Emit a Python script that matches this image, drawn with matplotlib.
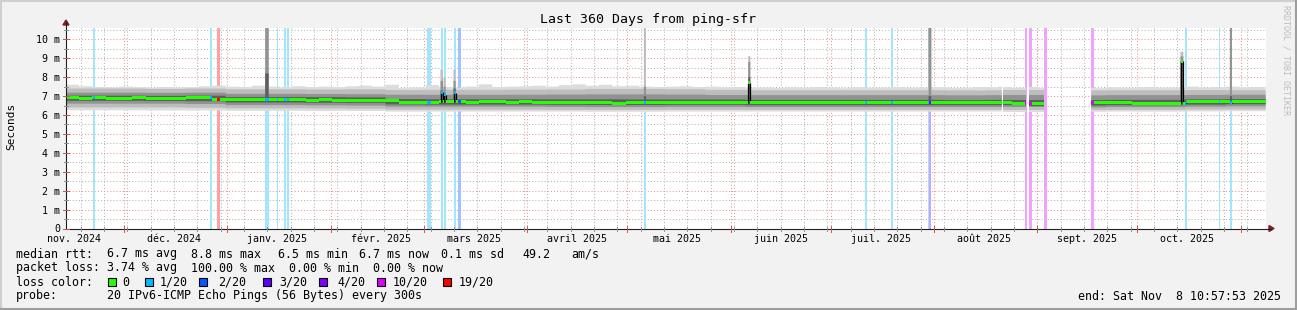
import numpy as np
import matplotlib
matplotlib.use("Agg")
import matplotlib.pyplot as plt
from matplotlib.patches import Rectangle, Polygon
from matplotlib.lines import Line2D
from matplotlib.collections import LineCollection, PolyCollection
from matplotlib.transforms import Affine2D
from datetime import datetime, timedelta

W, H = 1297, 310
MONO = "DejaVu Sans Mono"

# ---------------- data ----------------
start = datetime(2024, 11, 13, 10, 57, 53)
span_days = 360
title = "Last 360 Days from ping-sfr"
y_label = "Seconds"
y_ticks = [0, 1, 2, 3, 4, 5, 6, 7, 8, 9, 10]
y_tick_labels = ["0", "1 m", "2 m", "3 m", "4 m", "5 m", "6 m", "7 m", "8 m", "9 m", "10 m"]
y_max = 10.6
month_abbr = ["janv.", "févr.", "mars", "avril", "mai", "juin",
              "juil.", "août", "sept.", "oct.", "nov.", "déc."]

# median rtt in ms, one value per 4-day bin
median_bin = 4
median_ms = [6.90, 6.88, 6.90, 6.89, 6.88, 6.90, 6.88, 6.89, 6.88, 6.90,
             6.92, 6.83, 6.82, 6.83, 6.81, 6.82, 6.80, 6.81, 6.79, 6.80,
             6.79, 6.78, 6.79, 6.77, 6.76, 6.68, 6.67, 6.68, 6.69, 6.69,
             6.68, 6.70, 6.69, 6.68, 6.69, 6.68, 6.67, 6.66, 6.67, 6.65,
             6.64, 6.63, 6.66, 6.65, 6.66, 6.66, 6.67, 6.68, 6.67, 6.67,
             6.68, 6.66, 6.65, 6.66, 6.65, 6.64, 6.66, 6.65, 6.64, 6.65,
             6.66, 6.64, 6.64, 6.65, 6.66, 6.65, 6.64, 6.65, 6.65, 6.66,
             6.64, 6.61, 6.61, 6.62, 6.64, 6.64, 6.64, 6.64, 6.65, 6.64,
             6.63, 6.63, 6.63, 6.63, 6.70, 6.69, 6.70, 6.71, 6.72, 6.73]

# highest pings (ms), one value per 4-day bin
smoke_top = [7.60, 7.52, 7.48, 7.45, 7.50, 7.46, 7.44, 7.48, 7.45, 7.47,
             7.52, 7.55, 7.50, 7.48, 7.55, 7.50, 7.47, 7.52, 7.48, 7.50,
             7.46, 7.52, 7.55, 7.50, 7.60, 7.42, 7.45, 7.58, 7.48, 7.45,
             7.50, 7.62, 7.48, 7.50, 7.52, 7.55, 7.50, 7.58, 7.62, 7.55,
             7.60, 7.52, 7.55, 7.50, 7.48, 7.50, 7.52, 7.48, 7.50, 7.46,
             7.48, 7.45, 7.45, 7.42, 7.46, 7.44, 7.48, 7.45, 7.42, 7.46,
             7.44, 7.45, 7.48, 7.43, 7.45, 7.46, 7.44, 7.42, 7.47, 7.45,
             7.50, 7.45, 7.48, 7.44, 7.44, 7.44, 7.44, 7.42, 7.45, 7.44,
             7.46, 7.48, 7.44, 7.46, 7.50, 7.45, 7.48, 7.50, 7.46, 7.48]

# inner smoke layers (ms), one value per 12-day bin
smoke_bin = 12
smoke_up3 = [7.40, 7.40, 7.38, 7.40, 7.36, 7.36, 7.35, 7.36, 7.32, 7.33,
             7.33, 7.34, 7.35, 7.38, 7.38, 7.36, 7.33, 7.31, 7.31, 7.31,
             7.31, 7.31, 7.30, 7.31, 7.31, 7.30, 7.31, 7.31, 7.32, 7.31]
smoke_up2 = [7.18, 7.18, 7.17, 7.18, 7.12, 7.12, 7.11, 7.10, 7.07, 7.07,
             7.07, 7.07, 7.08, 7.09, 7.09, 7.08, 7.06, 7.05, 7.05, 7.05,
             7.05, 7.05, 7.04, 7.05, 7.05, 7.04, 7.05, 7.05, 7.06, 7.07]
smoke_up1 = [7.02, 7.02, 7.01, 7.02, 6.95, 6.95, 6.94, 6.93, 6.84, 6.83,
             6.83, 6.83, 6.83, 6.83, 6.82, 6.82, 6.82, 6.80, 6.80, 6.80,
             6.80, 6.80, 6.79, 6.80, 6.80, 6.79, 6.80, 6.80, 6.83, 6.84]
smoke_lo1 = [6.75, 6.75, 6.74, 6.73, 6.66, 6.66, 6.65, 6.64, 6.56, 6.55,
             6.55, 6.55, 6.54, 6.53, 6.53, 6.54, 6.54, 6.52, 6.52, 6.52,
             6.52, 6.52, 6.52, 6.52, 6.50, 6.50, 6.52, 6.52, 6.55, 6.57]
smoke_lo2 = [6.60, 6.60, 6.60, 6.58, 6.52, 6.52, 6.51, 6.50, 6.44, 6.44,
             6.44, 6.44, 6.43, 6.42, 6.42, 6.43, 6.43, 6.42, 6.42, 6.42,
             6.42, 6.42, 6.42, 6.42, 6.40, 6.40, 6.42, 6.42, 6.44, 6.46]
smoke_lo3 = [6.40, 6.40, 6.40, 6.38, 6.35, 6.35, 6.34, 6.33, 6.28, 6.28,
             6.28, 6.28, 6.27, 6.27, 6.27, 6.28, 6.28, 6.27, 6.27, 6.27,
             6.27, 6.27, 6.27, 6.27, 6.26, 6.26, 6.27, 6.27, 6.29, 6.30]
smoke_lo4 = [6.25, 6.25, 6.24, 6.24, 6.22, 6.22, 6.21, 6.21, 6.18, 6.18,
             6.18, 6.18, 6.18, 6.17, 6.17, 6.18, 6.18, 6.18, 6.18, 6.18,
             6.18, 6.18, 6.18, 6.18, 6.17, 6.17, 6.18, 6.18, 6.19, 6.20]

# periods without data (days from start)
gap_start = [280.9, 288.1, 293.6]
gap_end = [281.3, 289.1, 307.7]

# loss levels
loss_labels = ["0", "1/20", "2/20", "3/20", "4/20", "10/20", "19/20"]
loss_colors = ["#26ff00", "#00b8ff", "#0059ff", "#5e00ff", "#7e00ff", "#dd00ff", "#ff0000"]
# loss events: start day, duration (days), level index
loss_day = [8.25, 43.4, 45.4, 59.9, 63.5, 65.4, 66.5, 108.5, 112.5, 113.4,
            116.5, 117.8, 173.4, 239.9, 247.7, 258.7, 259.1, 287.7, 289.1, 293.6,
            307.7, 335.9, 345.9, 349.2]
loss_width = [0.6, 0.6, 1.0, 1.0, 0.3, 0.8, 0.4, 1.0, 0.7, 0.6,
              0.5, 0.7, 0.7, 0.5, 0.6, 0.4, 0.6, 0.6, 0.7, 0.7,
              0.7, 0.5, 0.5, 0.7]
loss_level = [1, 1, 6, 1, 1, 1, 1, 1, 1, 1,
              1, 2, 1, 1, 1, 1, 4, 5, 5, 5,
              5, 1, 1, 1]

# latency spikes: start day, duration, smoke top, smoke mid, smoke core, median (ms)
spike_day = [59.9, 112.5, 113.4, 116.4, 173.5, 204.8, 258.9, 334.5, 349.3]
spike_width = [1.0, 0.7, 0.6, 0.6, 0.6, 0.6, 0.8, 0.8, 0.6]
spike_top = [10.6, 8.40, 8.00, 8.40, 10.6, 9.10, 10.6, 9.34, 10.6]
spike_mid = [10.6, 7.80, 7.50, 7.80, 7.50, 8.80, 10.6, 9.10, 10.6]
spike_core = [8.20, 7.30, 7.10, 7.40, 7.00, 8.00, 7.00, 8.85, 7.00]
spike_median = [6.82, 7.20, 7.06, 7.17, 6.66, 7.70, 6.65, 8.85, 6.66]

rtt_label = "median rtt:"
rtt_items = ["6.7 ms avg", "8.8 ms max", "6.5 ms min", "6.7 ms now", "0.1 ms sd", "49.2", "am/s"]
loss_label = "packet loss:"
loss_items = ["3.74 % avg", "100.00 % max", "0.00 % min", "0.00 % now"]
color_label = "loss color:"
probe_label = "probe:"
probe_text = "20 IPv6-ICMP Echo Pings (56 Bytes) every 300s"
end_text = "end: Sat Nov  8 10:57:53 2025"
watermark = "RRDTOOL / TOBI OETIKER"

# ---------------- figure ----------------
BG = "#F2F2F2"
fig = plt.figure(figsize=(W / 100, H / 100), dpi=100, facecolor=BG)
PX = Affine2D().scale(1.0 / W, -1.0 / H).translate(0, 1) + fig.transFigure

X0, X1, YT, YB = 65.6, 1265.6, 28.0, 228.5
ax = fig.add_axes([X0 / W, (H - YB) / H, (X1 - X0) / W, (YB - YT) / H])
ax.set_facecolor("white")
ax.set_xlim(0, span_days)
ax.set_ylim(0, y_max)
for s in ax.spines.values():
    s.set_visible(False)


def dayof(dt):
    return (dt - start).total_seconds() / 86400.0


def light(c, a=0.37):
    c = matplotlib.colors.to_rgb(c)
    return tuple(1 - a * (1 - v) for v in c)


GRID = "#B4B4B4"
MGRID = "#EB9595"
dots = (0, (1, 2))

# month boundaries and weeks
months = []
y, m = 2024, 11
while True:
    d = datetime(y, m, 1)
    if dayof(d) > span_days + 31:
        break
    months.append(d)
    m += 1
    if m > 12:
        m, y = 1, y + 1
weeks = []
d = datetime(2024, 11, 18)
while dayof(d) < span_days:
    weeks.append(d)
    d += timedelta(days=7)

for wk in weeks:
    ax.axvline(dayof(wk), color=GRID, lw=0.75, ls=dots, zorder=1)
for mo in months:
    if 0 < dayof(mo) < span_days:
        ax.axvline(dayof(mo), color=MGRID, lw=0.75, ls=dots, zorder=1.1)
for v in np.arange(0.5, y_max, 1.0):
    ax.axhline(v, color=GRID, lw=0.75, ls=dots, zorder=1)
for v in y_ticks[1:]:
    ax.axhline(v, color=MGRID, lw=0.75, ls=dots, zorder=1.1)

# loss background bars
for d0, w, lv in zip(loss_day, loss_width, loss_level):
    ax.axvspan(d0, d0 + w, color=light(loss_colors[lv]), lw=0, zorder=2)

# fine time grid
dt = 0.05
t = np.arange(0, span_days, dt)
tm = t + dt / 2
mi = np.minimum((tm // median_bin).astype(int), len(median_ms) - 1)
si = np.minimum((tm // smoke_bin).astype(int), len(smoke_up3) - 1)
med = np.array(median_ms)[mi]
layers = {k: np.array(v)[si] for k, v in dict(
    up3=smoke_up3, up2=smoke_up2, up1=smoke_up1,
    lo1=smoke_lo1, lo2=smoke_lo2, lo3=smoke_lo3, lo4=smoke_lo4).items()}
layers["up4"] = np.array(smoke_top)[mi]
col = np.zeros(len(t), dtype=int)

for d0, w, tp, md, cr, me in zip(spike_day, spike_width, spike_top, spike_mid,
                                 spike_core, spike_median):
    sel = (tm >= d0) & (tm < d0 + w)
    layers["up4"][sel] = tp
    layers["up3"][sel] = tp
    layers["up2"][sel] = md
    layers["up1"][sel] = np.maximum(layers["up1"][sel], cr)
    med[sel] = me
for d0, w, lv in zip(loss_day, loss_width, loss_level):
    sel = (tm >= d0) & (tm < d0 + w)
    col[sel] = lv
for g0, g1 in zip(gap_start, gap_end):
    sel = (tm >= g0) & (tm < g1)
    med[sel] = np.nan
    for k in layers:
        layers[k][sel] = np.nan

xe = np.append(t, span_days)


def ext(a):
    return np.append(a, a[-1])


shades = [("lo4", "up4", "#DCDCDC"), ("lo3", "up3", "#BDBDBD"),
          ("lo2", "up2", "#929292"), ("lo1", "up1", "#5E5E5E")]
for lo, up, c in shades:
    ax.fill_between(xe, ext(layers[lo]), ext(layers[up]), step="post",
                    color=c, lw=0, zorder=3)

# median: 3-px thick runs coloured by loss, thin black risers between runs
half = 1.5 * y_max / (YB - YT)
rects, cols, risers = [], [], []
n = len(t)
i = 0
prev = None
while i < n:
    if np.isnan(med[i]):
        prev = None
        i += 1
        continue
    j = i
    while j + 1 < n and med[j + 1] == med[i] and col[j + 1] == col[i]:
        j += 1
    xa, xb = t[i], t[j] + dt
    v = med[i]
    rects.append([(xa, v - half), (xb, v - half), (xb, v + half), (xa, v + half)])
    cols.append(loss_colors[col[i]])
    if prev is not None and prev != v:
        risers.append([(xa, prev), (xa, v)])
    prev = v
    i = j + 1
ax.add_collection(LineCollection(risers, colors="#000000", linewidths=0.9, zorder=4))
ax.add_collection(PolyCollection(rects, facecolors=cols, edgecolors="none", zorder=5))

ax.set_xticks([])
ax.set_yticks([])

# axes lines + arrows
AXC = "#1F1F1F"
ARC = "#801F1F"
fig.add_artist(Line2D([66, 66], [228.5, 22], color=AXC, lw=0.8, transform=PX))
fig.add_artist(Line2D([66, 1271], [228.5, 228.5], color=AXC, lw=0.8, transform=PX))
fig.add_artist(Polygon([[63, 25], [69, 25], [66, 20]], closed=True, color=ARC, transform=PX))
fig.add_artist(Polygon([[1269, 225.5], [1269, 231.5], [1274, 228.5]], closed=True, color=ARC, transform=PX))


def dx(d):
    return X0 + (X1 - X0) * d / span_days


def ypx(v):
    return YB - (YB - YT) * v / y_max


for wk in weeks:
    x = dx(dayof(wk))
    fig.add_artist(Line2D([x, x], [226.5, 230.5], color="#909090", lw=0.7, transform=PX))
for mo in months:
    dd = dayof(mo)
    if 0 < dd < span_days:
        x = dx(dd)
        fig.add_artist(Line2D([x, x], [225.5, 231.5], color="#D05050", lw=0.7, transform=PX))
for v in y_ticks:
    yy = ypx(v)
    fig.add_artist(Line2D([63, 69], [yy, yy], color="#D05050", lw=0.7, transform=PX))
for v in np.arange(0.5, y_max, 1.0):
    yy = ypx(v)
    fig.add_artist(Line2D([64, 68], [yy, yy], color="#909090", lw=0.7, transform=PX))

# y tick labels
for v, lab in zip(y_ticks, y_tick_labels):
    fig.text(60, ypx(v), lab, transform=PX, ha="right", va="center_baseline",
             family=MONO, fontsize=7.2)

# month labels (mid-month)
for mo in months:
    lab_day = dayof(mo) + 15
    if 0 <= lab_day <= span_days:
        lab = f"{month_abbr[mo.month - 1]} {mo.year}"
        fig.text(dx(lab_day), 241.5, lab, transform=PX, ha="center", va="baseline",
                 family=MONO, fontsize=7.2)

# title, y label, watermark
fig.text(648, 23.3, title, transform=PX, ha="center", va="baseline", family=MONO, fontsize=9.5)
fig.text(11, 126.5, y_label, transform=PX, ha="center", va="center", rotation=90,
         family=MONO, fontsize=8)
fig.text(1286, 60, watermark, transform=PX, ha="center", va="center", rotation=270,
         family=MONO, fontsize=6, color="#BDBDBD")

# legend
LFS = 8.35
CW = 7.0
base = [257.5, 271.5, 285.5, 299.5]


def put(x, yb, s, ha="left"):
    fig.text(x, yb, s, transform=PX, ha=ha, va="baseline", family=MONO, fontsize=LFS)


put(16, base[0], rtt_label)
for c, s in zip([13, 25, 37.5, 49, 60.7, 72.3, 79.3], rtt_items):
    put(16 + c * CW, base[0], s)
put(16, base[1], loss_label)
for c, s in zip([13, 25, 39, 51], loss_items):
    put(16 + c * CW, base[1], s)
put(16, base[2], color_label)
put(16, base[3], probe_label)
put(16 + 13 * CW, base[3], probe_text)
put(1281, base[3], end_text, ha="right")

box_x = [108.3, 145.0, 199.0, 263.0, 319.3, 377.3, 443.3]
text_x = [122.7, 160.0, 218.3, 279.0, 337.7, 392.7, 458.3]
for bx, tx, c, lab in zip(box_x, text_x, loss_colors, loss_labels):
    fig.add_artist(Rectangle((bx, 278.0), 7.7, 7.7, facecolor=c, edgecolor="black",
                             lw=0.8, transform=PX))
    put(tx, base[2], lab)

# 3D frame
fig.add_artist(Line2D([0, W], [1, 1], color="#CFCFCF", lw=1.5, transform=PX))
fig.add_artist(Line2D([1, 1], [0, H], color="#CFCFCF", lw=1.5, transform=PX))
fig.add_artist(Line2D([0, W], [H - 1, H - 1], color="#9E9E9E", lw=1.5, transform=PX))
fig.add_artist(Line2D([W - 1, W - 1], [0, H], color="#9E9E9E", lw=1.5, transform=PX))

fig.savefig("out.png", dpi=100, facecolor=BG)
